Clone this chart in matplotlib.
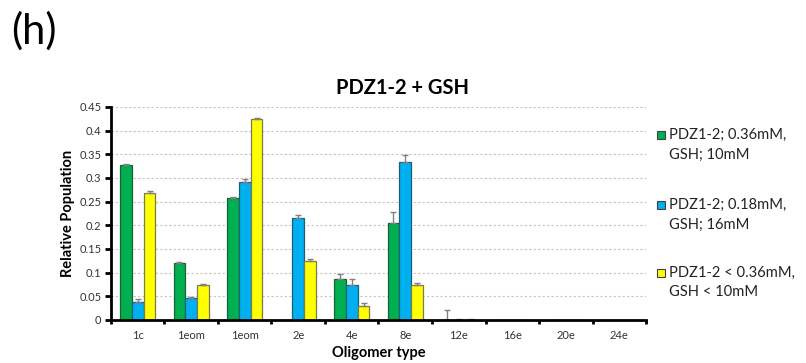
import numpy as np
import matplotlib
matplotlib.use("Agg")
import matplotlib.pyplot as plt
from matplotlib.patches import Rectangle

plt.rcParams['font.family'] = ['Lato', 'DejaVu Sans']

# categories on the x axis
oligomers = ['1c', '1eom', '1eom', '2e', '4e', '8e', '12e', '16e', '20e', '24e']

series_names = ['PDZ1-2; 0.36mM,\nGSH; 10mM',
                'PDZ1-2; 0.18mM,\nGSH; 16mM',
                'PDZ1-2 < 0.36mM,\nGSH < 10mM']
series_colors = ['#00b050', '#00b0f0', '#ffff00']
edge_colors = ['#1d5e36', '#1f5f78', '#7a7a50']

# relative populations
green_vals = [0.328, 0.121, 0.257, 0.0, 0.086, 0.205, 0.0, 0.0, 0.0, 0.0]
blue_vals = [0.037, 0.047, 0.291, 0.216, 0.073, 0.334, 0.001, 0.0, 0.0, 0.0]
yellow_vals = [0.269, 0.074, 0.425, 0.124, 0.030, 0.073, 0.001, 0.0, 0.0, 0.0]

# upper error bars
green_err = [0.002, 0.001, 0.002, 0.0, 0.011, 0.024, 0.021, 0.0, 0.0, 0.0]
blue_err = [0.007, 0.002, 0.007, 0.005, 0.013, 0.014, 0.001, 0.0, 0.0, 0.0]
yellow_err = [0.004, 0.001, 0.002, 0.004, 0.005, 0.006, 0.001, 0.0, 0.0, 0.0]

all_vals = [green_vals, blue_vals, yellow_vals]
all_errs = [green_err, blue_err, yellow_err]

fig = plt.figure(figsize=(8.06, 3.63), dpi=100)
ax = fig.add_axes([0.1377, 0.1185, 0.6638, 0.5868])

x = np.arange(len(oligomers))
width = 0.22
for k in range(3):
  offs = (k - 1) * width
  ax.bar(x + offs, all_vals[k], width, color=series_colors[k], edgecolor=edge_colors[k],
         linewidth=0.9, zorder=3)
  err = np.array(all_errs[k])
  vals = np.array(all_vals[k])
  keep = err > 0  # no caps where there is nothing to show
  ax.errorbar((x + offs)[keep], vals[keep], yerr=[np.zeros(keep.sum()), err[keep]], fmt='none',
              ecolor='#808080', elinewidth=1.0, capsize=2.5, capthick=1.0, zorder=4)

ax.set_xlim(-0.5, len(oligomers) - 0.5)
ax.set_ylim(0, 0.45)
ax.set_yticks(np.arange(0, 0.451, 0.05))
ax.set_yticklabels([f"{v:g}" for v in np.round(np.arange(0, 0.451, 0.05), 2)])
ax.yaxis.grid(True, linestyle=(0, (2, 2)), color='#c4c4c4', linewidth=0.8, zorder=0)

# tick marks at category boundaries, labels in the middle
ax.set_xticks(np.arange(-0.5, len(oligomers), 1.0))
ax.set_xticklabels([])
ax.set_xticks(x, minor=True)
ax.set_xticklabels(oligomers, minor=True)
ax.tick_params(axis='x', which='minor', length=0, pad=7, labelsize=8, labelcolor='#333333')
ax.tick_params(axis='x', which='major', direction='out', length=3, width=2)
ax.tick_params(axis='y', direction='out', length=4, width=2, labelsize=8, labelcolor='#333333', pad=3)

for side in ['top', 'right']:
  ax.spines[side].set_visible(False)
for side in ['left', 'bottom']:
  ax.spines[side].set_linewidth(2)
  ax.spines[side].set_zorder(6)

ax.set_xlabel('Oligomer type', fontsize=10.5, fontweight='bold', labelpad=4)
ax.set_ylabel('Relative Population', fontsize=10.5, fontweight='bold')
ax.yaxis.set_label_coords(-0.067, 0.5)

fig.text(0.5, 0.757, 'PDZ1-2 + GSH', ha='center', va='center', fontsize=14.5, fontweight='bold')
fig.text(0.014, 0.915, '(h)', ha='left', va='center', fontsize=30)

# legend drawn by hand
leg_y = [135, 205, 273]
for k in range(3):
  yc = 1 - leg_y[k] / 363
  fig.patches.append(Rectangle((657 / 806, yc - 4 / 363), 8 / 806, 8 / 363,
                               transform=fig.transFigure, facecolor=series_colors[k],
                               edgecolor='#404040', linewidth=0.8))
  fig.text(669 / 806, yc + 7 / 363, series_names[k], ha='left', va='top',
           fontsize=10.6, linespacing=1.5, color='#222222')

fig.savefig('out.png', dpi=100)
